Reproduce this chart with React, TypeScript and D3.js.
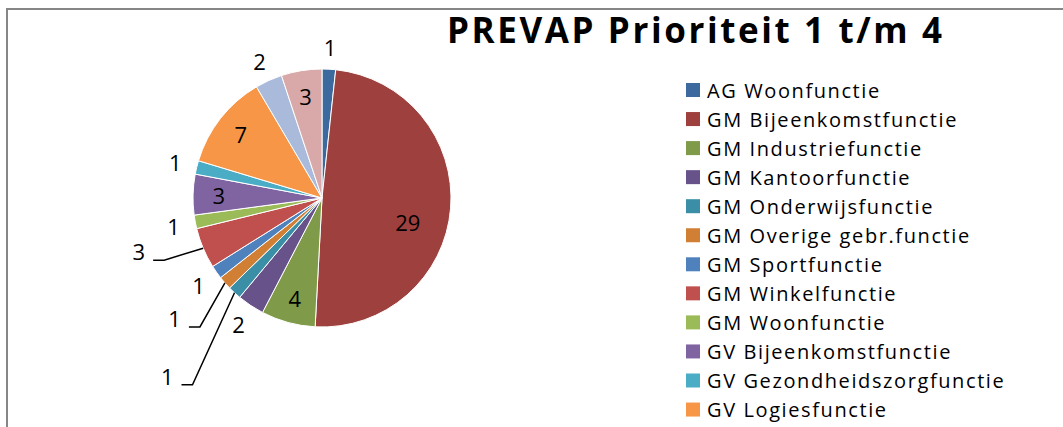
import * as d3 from "d3"
import React from "react"

const categories = [
  "AG Woonfunctie",
  "GM Bijeenkomstfunctie",
  "GM Industriefunctie",
  "GM Kantoorfunctie",
  "GM Onderwijsfunctie",
  "GM Overige gebr.functie",
  "GM Sportfunctie",
  "GM Winkelfunctie",
  "GM Woonfunctie",
  "GV Bijeenkomstfunctie",
  "GV Gezondheidszorgfunctie",
  "GV Logiesfunctie",
  "GV Onderwijsfunctie",
  "GV Woonfunctie",
]
const counts = [1, 29, 4, 2, 1, 1, 1, 3, 1, 3, 1, 7, 2, 3]
const colors = [
  "#3d6a9e", "#9e413e", "#7f9a48", "#68528a", "#3a8ea6", "#d07f35", "#4f81bd",
  "#c0504d", "#9bbb59", "#8064a2", "#4bacc6", "#f79646", "#a9badb", "#d8a9a8",
]
// how Excel's best fit placed each data label
const labelKind = [
  "outside", "inside", "inside", "outside", "leader", "leader", "outside",
  "leader", "outside", "inside", "outside", "inside", "outside", "inside",
]
// bend of the leader lines, offset from the rim of the slice
const leaderBend: Record<number, [number, number]> = { 4: [-42, 92], 5: [-25, 44], 7: [-39, 12] }

const title = "PREVAP Prioriteit 1 t/m 4"
const font = "'Open Sans', sans-serif"

export default function App() {
  const W = 1063, H = 427
  const cx = 322, cy = 198, r = 129
  const pie = d3.pie<number>().sort(null).value(d => d)
  const arcs = pie(counts)
  const arc = d3.arc<d3.PieArcDatum<number>>().innerRadius(0).outerRadius(r)
  const at = (a: number, rad: number): [number, number] => [Math.sin(a) * rad, -Math.cos(a) * rad]
  const legendY = d3.scaleLinear().domain([0, 1]).range([90, 119.05])
  // the legend runs past the bottom of the chart area; only the rows that fit are shown
  const shown = categories.filter((_, i) => legendY(i) + 10 < H)
  const biggest = d3.maxIndex(counts)

  return (
    <svg width={W} height={H} style={{ position: "absolute", left: 0, top: 0, background: "#fff" }} fontFamily={font}>
      <rect x={7} y={9} width={W + 50} height={H + 50} fill="#fff" stroke="#868686" strokeWidth={2} />
      <text x={447} y={43} fontSize={35} fontWeight="bold" letterSpacing={2.6} fill="#000">{title}</text>
      <g transform={`translate(${cx},${cy})`}>
        {arcs.map((a, i) => (
          <path key={i} d={arc(a) || ""} fill={colors[i]} stroke="#fff" strokeWidth={1} />
        ))}
        {arcs.map((a, i) => {
          const mid = (a.startAngle + a.endAngle) / 2
          const kind = labelKind[i]
          if (kind === "leader") {
            const [ex, ey] = at(mid, r)
            const [bx, by] = [ex + leaderBend[i][0], ey + leaderBend[i][1]]
            const tail = bx - 11
            return (
              <g key={i}>
                <polyline points={`${ex},${ey} ${bx},${by} ${tail},${by}`} fill="none" stroke="#000" strokeWidth={1.5} />
                <text x={tail - 8} y={by} textAnchor="end" fontSize={22} fill="#000">{a.data}</text>
              </g>
            )
          }
          // Excel pulls the label of the half-pie slice in towards the lower part
          const pos = i === biggest ? at(mid + 0.19, r * 0.69) : at(mid, kind === "inside" ? r * 0.8 : r + 22)
          return (
            <text key={i} x={pos[0]} y={pos[1]} textAnchor="middle" dominantBaseline="central" fontSize={22} fill="#000">{a.data}</text>
          )
        })}
      </g>
      {shown.map((c, i) => (
        <g key={c} transform={`translate(686,${legendY(i)})`}>
          <rect x={0} y={-7} width={14} height={14} fill={colors[i]} />
          <text x={21} y={0} dominantBaseline="central" fontSize={20} letterSpacing={1.6} fill="#000">{c}</text>
        </g>
      ))}
    </svg>
  )
}
